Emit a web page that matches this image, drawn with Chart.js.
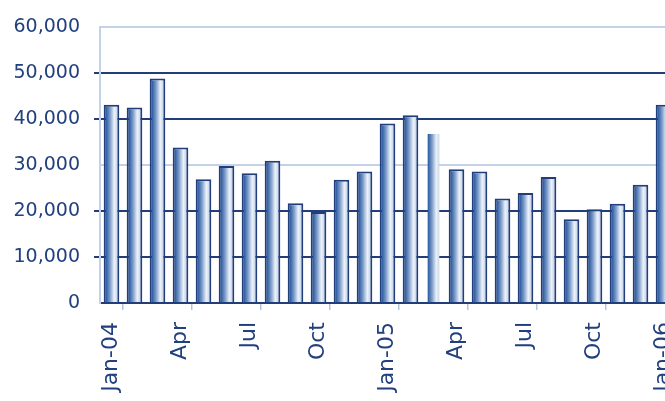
<!DOCTYPE html>
<html>
<head>
<meta charset="utf-8">
<script src="https://cdn.jsdelivr.net/npm/chart.js@4/dist/chart.umd.min.js"></script>
<style>
  html, body { margin: 0; padding: 0; background: #ffffff; overflow: hidden; width: 665px; height: 401px; }
  canvas { display: block; }
</style>
</head>
<body>
<canvas id="c" width="680" height="401"></canvas>
<script>
// ---- data ----
const categories = [
  'Jan-04','Feb-04','Mar-04','Apr-04','May-04','Jun-04','Jul-04','Aug-04','Sep-04','Oct-04','Nov-04','Dec-04',
  'Jan-05','Feb-05','Mar-05','Apr-05','May-05','Jun-05','Jul-05','Aug-05','Sep-05','Oct-05','Nov-05','Dec-05',
  'Jan-06'
];
const values = [
  43100, 42500, 48800, 33800, 26900, 29800, 28200, 30900, 21700, 19800, 26800, 28600,
  39000, 40800, 37200, 29100, 28600, 22700, 23900, 27400, 18200, 20400, 21600, 25700,
  43100
];
const tickLabels = ['Jan-04','Apr','Jul','Oct','Jan-05','Apr','Jul','Oct','Jan-06'];
const yTicks = [0, 10000, 20000, 30000, 40000, 50000, 60000];

// ---- styles ----
const NAVY = '#213d7a';
const LIGHT = '#c4d2e7';
const TEXT = '#22407e';
const BAR_PCT = 0.68;

function barGradient(ctx) {
  const chart = ctx.chart;
  if (!chart.chartArea) return '#7b9ccb';
  const xs = chart.scales.x;
  const cx = xs.getPixelForValue(ctx.dataIndex);
  const w = xs.width / categories.length * BAR_PCT;
  const g = chart.ctx.createLinearGradient(cx - w / 2, 0, cx + w / 2, 0);
  g.addColorStop(0.0, '#1d3f84');
  g.addColorStop(0.15, '#2d5ca1');
  g.addColorStop(0.4, '#7b9bca');
  g.addColorStop(0.68, '#edf2f9');
  g.addColorStop(0.88, '#c6d4e9');
  g.addColorStop(1.0, '#86a2cd');
  return g;
}

new Chart(document.getElementById('c'), {
  type: 'bar',
  data: {
    labels: categories,
    datasets: [{
      data: values,
      backgroundColor: barGradient,
      borderColor: (ctx) => ctx.dataIndex === 14 ? 'rgba(0,0,0,0)' : NAVY,
      borderWidth: 2,
      borderSkipped: 'bottom',
      categoryPercentage: 1.0,
      barPercentage: BAR_PCT
    }]
  },
  options: {
    responsive: false,
    animation: false,
    layout: { padding: { top: 27, right: 5, left: 0, bottom: 0 } },
    plugins: { legend: { display: false }, tooltip: { enabled: false } },
    scales: {
      x: {
        offset: true,
        grid: {
          display: true,
          drawOnChartArea: false,
          drawTicks: true,
          tickLength: 7,
          offset: true,
          lineWidth: 1.5,
          color: (ctx) => (ctx.index % 3 === 1) ? '#b3c5e0' : 'rgba(0,0,0,0)'
        },
        border: { display: true, color: NAVY, width: 2 },
        ticks: {
          autoSkip: false,
          minRotation: 90,
          maxRotation: 90,
          padding: 12,
          color: TEXT,
          font: { family: 'DejaVu Sans', size: 22 },
          callback: (v, i) => (i % 3 === 0) ? tickLabels[i / 3] : ''
        },
        afterFit: (scale) => { scale.height = 98; scale.paddingLeft = 0; scale.paddingRight = 0; }
      },
      y: {
        min: 0,
        max: 60000,
        afterBuildTicks: (scale) => { scale.ticks = yTicks.map(v => ({ value: v })); },
        grid: {
          lineWidth: 2,
          tickLength: 6,
          color: (ctx) => {
            const v = ctx.tick ? ctx.tick.value : 0;
            return (v === 60000 || v === 30000) ? LIGHT : NAVY;
          },
          tickColor: (ctx) => {
            const v = ctx.tick ? ctx.tick.value : 0;
            return (v === 60000 || v === 30000 || v === 0) ? 'rgba(0,0,0,0)' : NAVY;
          }
        },
        border: { display: true, color: LIGHT, width: 2 },
        ticks: {
          padding: 14,
          color: TEXT,
          font: { family: 'DejaVu Sans', size: 19 },
          callback: (v) => v.toLocaleString('en-US')
        },
        afterFit: (scale) => { scale.width = 100; scale.paddingTop = 0; scale.paddingBottom = 0; }
      }
    }
  }
});
</script>
</body>
</html>
